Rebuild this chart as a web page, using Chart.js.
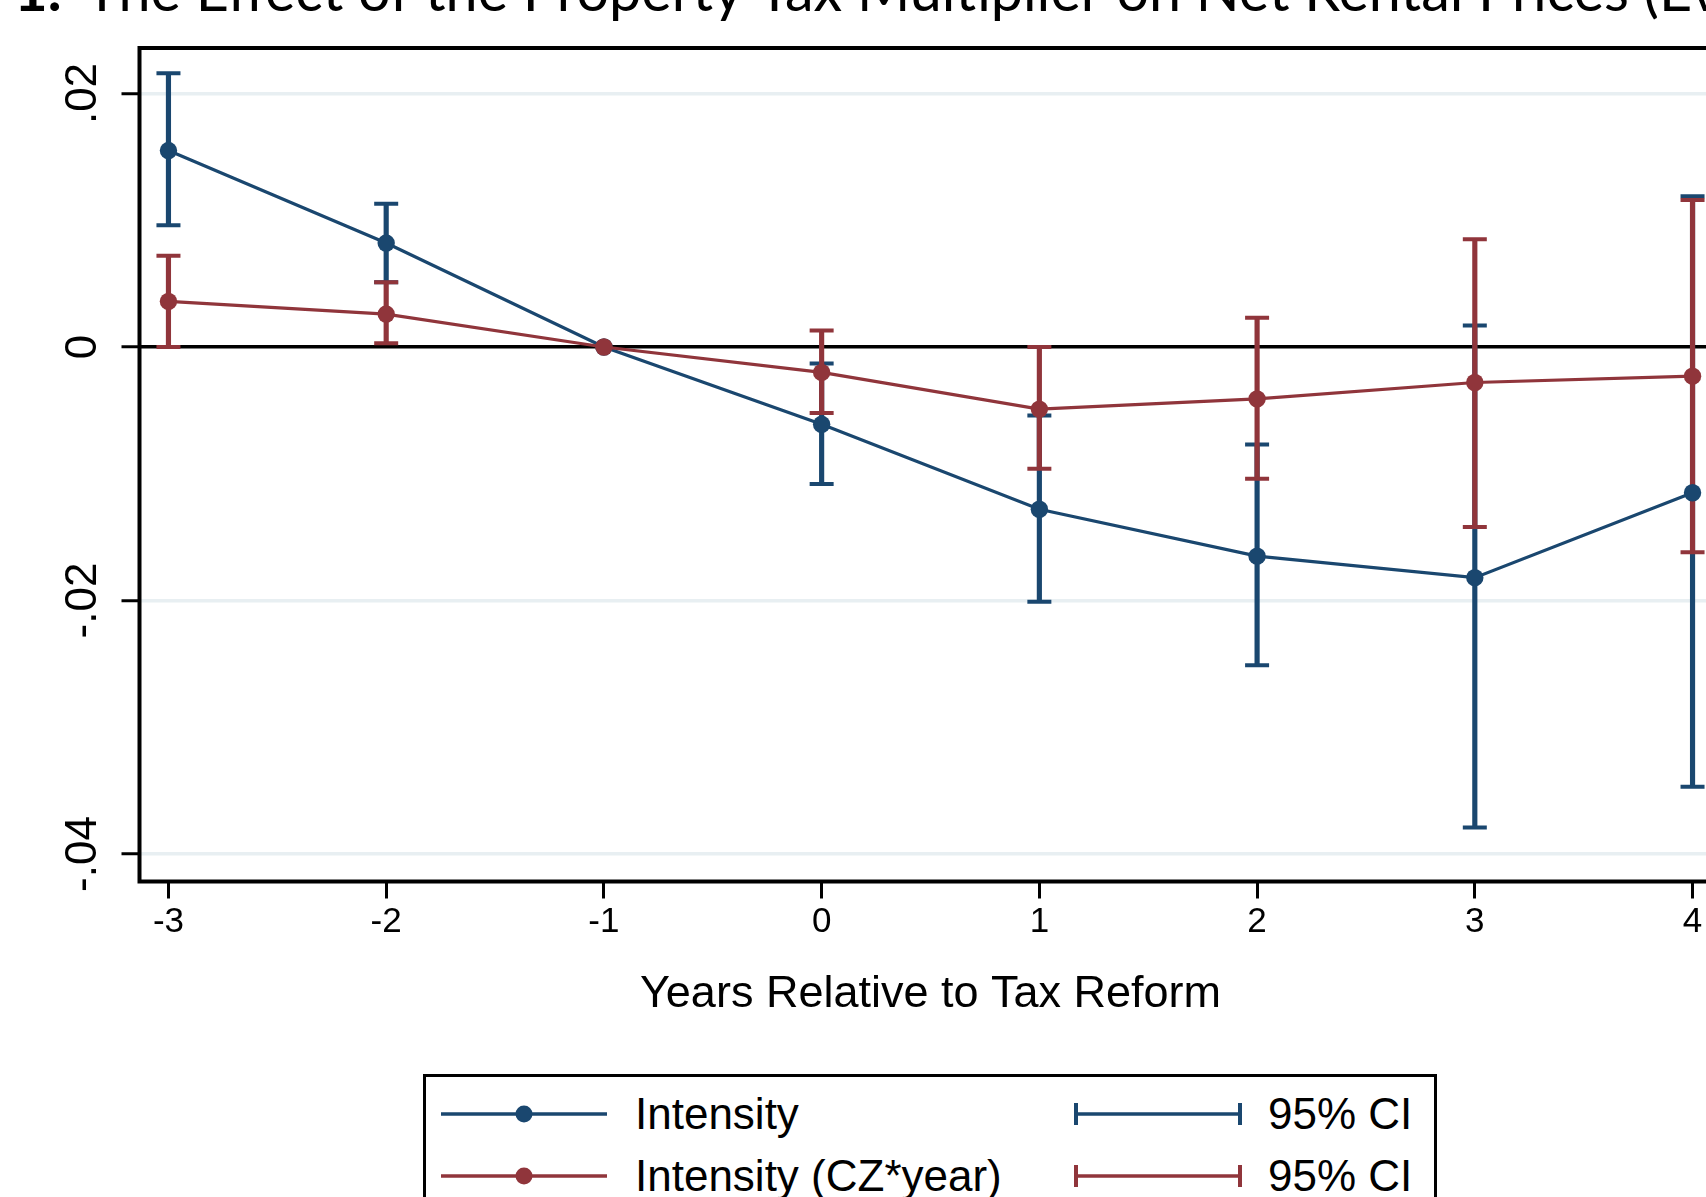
<!DOCTYPE html>
<html>
<head>
<meta charset="utf-8">
<title>Property tax multiplier event study</title>
<script src="https://cdn.jsdelivr.net/npm/chart.js"></script>
<style>
  html, body { margin: 0; padding: 0; background: #fff; overflow: hidden; }
  #wrap { position: relative; width: 1740px; height: 1197px; }
  .legend {
    position: absolute; left: 423px; top: 1074px; width: 1014px; height: 200px;
    border: 3px solid #000; box-sizing: border-box; background: #fff;
    font-family: "Liberation Sans", Arial, sans-serif; font-size: 44px; color: #000;
  }
  .legend span { position: absolute; line-height: 1; white-space: nowrap; }
  .legend svg { position: absolute; }
</style>
</head>
<body>
<div id="wrap">
  <canvas id="chart"></canvas>
  <div class="legend">
    <svg style="left:15px; top:22px" width="170" height="30">
      <line x1="0" y1="15" x2="166" y2="15" stroke="#1a476f" stroke-width="3.5"/>
      <circle cx="83" cy="15" r="8.5" fill="#1a476f"/>
    </svg>
    <span style="left:209px; top:15px">Intensity</span>
    <svg style="left:648px; top:22px" width="170" height="30">
      <line x1="2" y1="15" x2="166" y2="15" stroke="#1a476f" stroke-width="3.5"/>
      <line x1="2" y1="4" x2="2" y2="26" stroke="#1a476f" stroke-width="4"/>
      <line x1="166" y1="4" x2="166" y2="26" stroke="#1a476f" stroke-width="4"/>
    </svg>
    <span style="left:842px; top:15px">95% CI</span>

    <svg style="left:15px; top:84px" width="170" height="30">
      <line x1="0" y1="15" x2="166" y2="15" stroke="#90353b" stroke-width="3.5"/>
      <circle cx="83" cy="15" r="8.5" fill="#90353b"/>
    </svg>
    <span style="left:209px; top:77px">Intensity (CZ*year)</span>
    <svg style="left:648px; top:84px" width="170" height="30">
      <line x1="2" y1="15" x2="166" y2="15" stroke="#90353b" stroke-width="3.5"/>
      <line x1="2" y1="4" x2="2" y2="26" stroke="#90353b" stroke-width="4"/>
      <line x1="166" y1="4" x2="166" y2="26" stroke="#90353b" stroke-width="4"/>
    </svg>
    <span style="left:842px; top:77px">95% CI</span>
  </div>
</div>
<script>
// values (year -1 is the omitted reference year)
const years = [-3, -2, -1, 0, 1, 2, 3, 4];
const intensity   = [0.0155, 0.0082, 0, -0.0061, -0.0128, -0.0165, -0.0182, -0.0115];
const intensityLo = [0.0096, 0.0051, null, -0.0108, -0.0201, -0.0251, -0.0379, -0.0347];
const intensityHi = [0.0216, 0.0113, null, -0.0013, -0.0054, -0.0077, 0.0017, 0.0119];
const czYear   = [0.0036, 0.0026, 0, -0.0020, -0.0049, -0.0041, -0.0028, -0.0023];
const czYearLo = [0.0000, 0.0003, null, -0.0052, -0.0096, -0.0104, -0.0142, -0.0162];
const czYearHi = [0.0072, 0.0051, null, 0.0013, 0.0000, 0.0023, 0.0085, 0.0116];

const xTickValues = [-3, -2, -1, 0, 1, 2, 3, 4];
const yTickValues = [-0.04, -0.02, 0, 0.02];
const yTickLabels = ['-.04', '-.02', '0', '.02'];

const titleBold = '1.';
const titleText = 'The Effect of the Property Tax Multiplier on Net Rental Prices (Event Study)';
const xTitle = 'Years Relative to Tax Reform';

const NAVY = '#1a476f';
const MAROON = '#90353b';
const FONT = '"Liberation Sans", Arial, sans-serif';

function points(vals) {
  return years.map((x, i) => ({ x: x, y: vals[i] }));
}
function whiskers(lo, hi) {
  return years.map((x, i) => ({ x: x, y: [lo[i], hi[i]] })).filter(d => d.y[0] !== null);
}
function caps(lo, hi) {
  const out = [];
  years.forEach((x, i) => {
    if (lo[i] === null) return;
    out.push({ x: x, y: lo[i] }, { x: x, y: hi[i] });
  });
  return out;
}

function whiskerSet(lo, hi, color, order) {
  return {
    type: 'bar', data: whiskers(lo, hi), backgroundColor: color, borderWidth: 0,
    barThickness: 4.5, grouped: false, order: order
  };
}
function capSet(lo, hi, color, order) {
  return {
    type: 'scatter', data: caps(lo, hi), pointStyle: 'line', pointRadius: 12,
    pointBorderWidth: 4, borderColor: color, backgroundColor: color, showLine: false, order: order
  };
}
function lineSet(vals, color, order) {
  return {
    type: 'line', data: points(vals), borderColor: color, borderWidth: 3.2, tension: 0,
    pointRadius: 8.7, pointBackgroundColor: color, pointBorderColor: color, pointBorderWidth: 0,
    fill: false, order: order
  };
}

const framePlugin = {
  id: 'frame',
  afterDatasetsDraw(chart) {
    const { ctx, chartArea: a } = chart;
    ctx.save();
    ctx.strokeStyle = '#000';
    ctx.lineWidth = 4;
    ctx.strokeRect(a.left, a.top, a.right - a.left, a.bottom - a.top);
    ctx.restore();
  }
};

const titlePlugin = {
  id: 'cutTitle',
  afterDraw(chart) {
    const ctx = chart.ctx;
    ctx.save();
    ctx.fillStyle = '#000';
    ctx.textBaseline = 'alphabetic';
    ctx.font = 'bold 58px Lato';
    ctx.fillText(titleBold, 14, 11);
    ctx.font = '57.5px Lato';
    ctx.fillText(titleText, 85, 11);
    ctx.restore();
  }
};

new Chart(document.getElementById('chart'), {
  data: {
    datasets: [
      whiskerSet(intensityLo, intensityHi, NAVY, 10),
      capSet(intensityLo, intensityHi, NAVY, 9),
      whiskerSet(czYearLo, czYearHi, MAROON, 8),
      capSet(czYearLo, czYearHi, MAROON, 7),
      lineSet(intensity, NAVY, 6),
      lineSet(czYear, MAROON, 5)
    ]
  },
  options: {
    responsive: true,
    maintainAspectRatio: false,
    animation: false,
    events: [],
    layout: { padding: { left: 0, top: 48, right: 18.5, bottom: 0 } },
    plugins: { legend: { display: false }, tooltip: { enabled: false } },
    scales: {
      x: {
        type: 'linear', min: -3.133, max: 4.133, offset: false,
        afterBuildTicks: s => { s.ticks = xTickValues.map(v => ({ value: v })); },
        afterFit: s => { s.height = 1197 - 881.5; },
        ticks: {
          autoSkip: false, maxRotation: 0, padding: 3, color: '#000',
          font: { family: FONT, size: 35 },
          callback: v => String(v)
        },
        grid: {
          offset: false, drawOnChartArea: false, drawTicks: true,
          tickLength: 17, tickWidth: 3, tickColor: '#000'
        },
        border: { display: false },
        title: {
          display: true, text: xTitle, color: '#000',
          font: { family: FONT, size: 45 }, padding: { top: 0, bottom: 175 }
        }
      },
      y: {
        type: 'linear', min: -0.04217, max: 0.02359, beginAtZero: false,
        afterBuildTicks: s => { s.ticks = yTickValues.map(v => ({ value: v })); },
        afterFit: s => { s.width = 139.5; },
        ticks: {
          autoSkip: false, minRotation: 90, maxRotation: 90, crossAlign: 'center',
          padding: 0, color: '#000', font: { family: FONT, size: 44 },
          callback: (v, i) => yTickLabels[i]
        },
        grid: {
          color: c => (c.tick && c.tick.value === 0) ? '#000' : '#e8eff2',
          lineWidth: 3.5,
          tickColor: '#000', tickWidth: 3, tickLength: 18
        },
        border: { display: false }
      }
    }
  },
  plugins: [framePlugin, titlePlugin]
});
</script>
</body>
</html>
